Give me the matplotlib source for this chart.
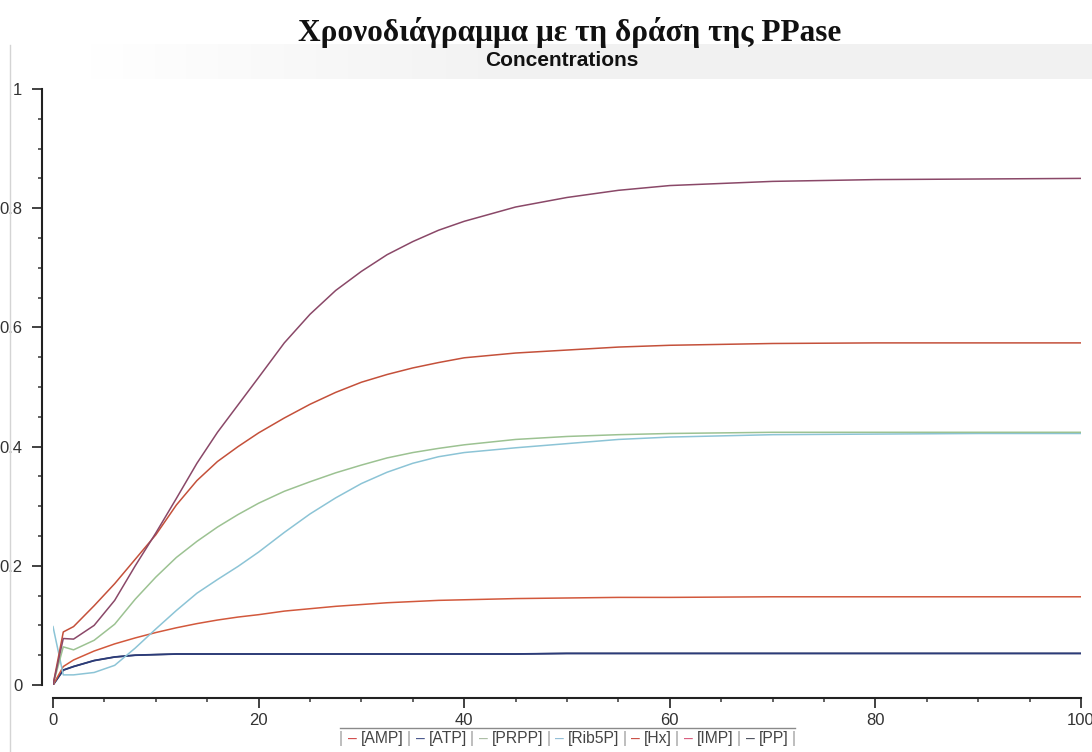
import matplotlib.pyplot as plt
import numpy as np
from matplotlib.lines import Line2D
from matplotlib.ticker import MultipleLocator

plt.rcParams['font.family'] = ['Liberation Sans', 'DejaVu Sans']

W, H = 1092, 752

# ── data ─────────────────────────────────────────────────────────────
time = [0, 1, 2, 4, 6, 8, 10, 12, 14, 16, 18, 20, 22.5, 25, 27.5, 30,
        32.5, 35, 37.5, 40, 45, 50, 55, 60, 70, 80, 90, 100]

imp = [0, .078, .077, .100, .142, .200, .255, .313, .372, .424, .470, .516,
       .574, .622, .662, .694, .722, .744, .763, .778, .802, .818, .830,
       .838, .845, .848, .849, .850]
amp = [0, .089, .098, .133, .170, .211, .252, .302, .343, .375, .400, .423,
       .448, .471, .491, .508, .521, .532, .541, .549, .557, .562, .567,
       .570, .573, .574, .574, .574]
prpp = [0, .064, .059, .075, .102, .144, .181, .214, .241, .265, .286, .305,
        .325, .341, .356, .369, .381, .390, .397, .403, .412, .417, .420,
        .422, .424, .424, .424, .424]
rib5p = [.098, .017, .017, .021, .033, .062, .094, .125, .154, .177, .199,
         .223, .256, .287, .314, .338, .357, .372, .383, .390, .398, .405,
         .412, .416, .420, .421, .422, .422]
hx = [0, .031, .042, .057, .069, .079, .088, .096, .103, .109, .114, .118,
      .124, .128, .132, .135, .138, .140, .142, .143, .145, .146, .147,
      .147, .148, .148, .148, .148]
atp = [0, .025, .031, .041, .047, .050, .051, .052, .052, .052, .052, .052,
       .052, .052, .052, .052, .052, .052, .052, .052, .052, .053, .053,
       .053, .053, .053, .053, .053]
pp = atp  # hidden under the [ATP] trace

legend_labels = ["[AMP]", "[ATP]", "[PRPP]", "[Rib5P]", "[Hx]", "[IMP]", "[PP]"]
legend_colors = ["#d04848", "#45548a", "#a9bba2", "#8fbcd6", "#c94a40", "#d9587a", "#4a4e5c"]

# ── figure ───────────────────────────────────────────────────────────
fig = plt.figure(figsize=(W / 100, H / 100), dpi=100)
fig.patch.set_facecolor("white")

# faint grey band behind the subtitle
band = fig.add_axes([0, 1 - 79 / H, 1, 35 / H], zorder=-5)
ramp = np.clip((np.linspace(0, 1, 400) - 0.08) / 0.4, 0, 1)
rgba = np.zeros((1, 400, 4))
rgba[..., :3] = 0.93
rgba[..., 3] = ramp * 0.75
band.imshow(rgba, aspect="auto", extent=[0, 1, 0, 1])
band.axis("off")

fig.add_artist(Line2D([10 / W, 10 / W], [0, 1 - 45 / H], color="#d4d4d4", lw=1))

fig.text(570 / W, 1 - 33 / H, "Χρονοδιάγραμμα με τη δράση της PPase",
         ha="center", va="center", fontsize=22.5, fontweight="bold",
         family=["Liberation Serif", "DejaVu Serif"], color="#111111")
fig.text(562 / W, 1 - 60 / H, "Concentrations", ha="center", va="center",
         fontsize=15, fontweight="bold", color="#111111")

ax = fig.add_axes([53 / W, 1 - 685 / H, (1081 - 53) / W, (685 - 89) / H])
ax.set_facecolor("none")

lw = 1.1
ax.plot(time, pp, color="#4a4e5c", lw=lw)
ax.plot(time, atp, color="#2b3b7a", lw=lw + 0.2)
ax.plot(time, hx, color="#d2583c", lw=lw)
ax.plot(time, rib5p, color="#8cc4d6", lw=lw)
ax.plot(time, prpp, color="#9cc292", lw=lw)
ax.plot(time, amp, color="#c4503a", lw=lw)
ax.plot(time, imp, color="#8a4868", lw=lw)

ax.set_xlim(0, 100)
ax.set_ylim(0, 1)

for s in ["top", "right"]:
    ax.spines[s].set_visible(False)
ax.spines["left"].set_position(("outward", 8))
ax.spines["bottom"].set_position(("outward", 9))
for s in ["left", "bottom"]:
    ax.spines[s].set_linewidth(1.5)
    ax.spines[s].set_color("#222222")

ax.xaxis.set_major_locator(MultipleLocator(20))
ax.xaxis.set_minor_locator(MultipleLocator(5))
ax.yaxis.set_major_locator(MultipleLocator(0.2))
ax.yaxis.set_minor_locator(MultipleLocator(0.05))
ax.set_yticks(np.arange(0, 1.01, 0.2))
ax.set_yticklabels(["0", "0.2", "0.4", "0.6", "0.8", "1"])

ax.tick_params(axis="both", which="major", direction="out", length=7, width=1.3,
               color="#333333", labelsize=12, labelcolor="#333333")
ax.tick_params(axis="y", which="major", pad=7)
ax.tick_params(axis="x", which="major", pad=4)
ax.tick_params(axis="both", which="minor", direction="out", length=3, width=1.3,
               color="#555555")

# ── legend strip under the axis ──────────────────────────────────────
fig.add_artist(Line2D([340 / W, 795 / W], [1 - 728 / H] * 2, color="#8a8a8a", lw=1))
fig.canvas.draw()
rend = fig.canvas.get_renderer()
ly = 1 - 739 / H
xpos = 339
for lab, col in zip(legend_labels, legend_colors):
    for txt, c, gap in [("|", "#9a9a9a", 5), ("–", col, 4), (lab, "#444444", 3)]:
        t = fig.text(xpos / W, ly, txt, color=c, fontsize=11.3, va="center", ha="left")
        xpos += t.get_window_extent(rend).width + gap
t = fig.text(xpos / W, ly, "|", color="#9a9a9a", fontsize=11.3, va="center", ha="left")

fig.savefig("out.png", dpi=100, facecolor="white")
plt.close(fig)
